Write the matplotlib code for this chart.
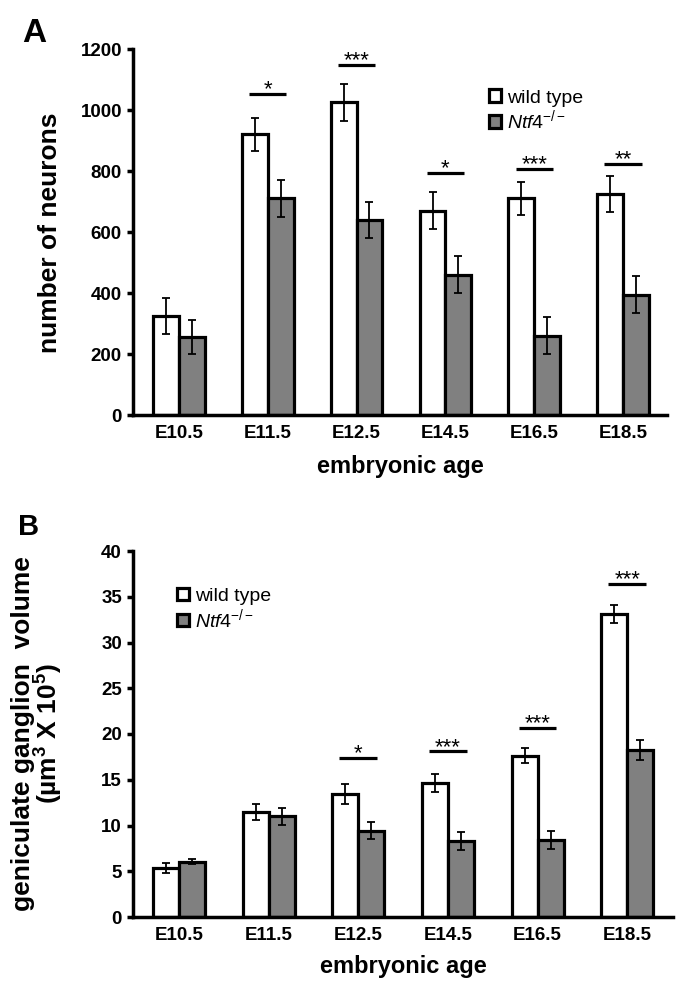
import numpy as np
import matplotlib
matplotlib.use('Agg')
import matplotlib.pyplot as plt
from matplotlib.patches import Patch

plt.rcParams['font.family'] = ['Liberation Sans', 'DejaVu Sans']
plt.rcParams['mathtext.fontset'] = 'custom'
plt.rcParams['mathtext.rm'] = 'Liberation Sans'
plt.rcParams['mathtext.it'] = 'Liberation Sans:italic'
plt.rcParams['mathtext.bf'] = 'Liberation Sans:bold'

# Dados
idades = ['E10.5', 'E11.5', 'E12.5', 'E14.5', 'E16.5', 'E18.5']

neur_wt = [325, 920, 1025, 670, 710, 725]
neur_wt_err = [60, 55, 60, 60, 55, 60]
neur_ko = [255, 710, 640, 460, 260, 395]
neur_ko_err = [55, 60, 60, 60, 60, 60]
neur_sig_idx = [1, 2, 3, 4, 5]
neur_sig_y = [1054, 1147, 793, 807, 824]
neur_sig_txt = ['*', '***', '*', '***', '**']

vol_wt = [5.4, 11.5, 13.45, 14.65, 17.65, 33.1]
vol_wt_err = [0.55, 0.9, 1.05, 0.95, 0.8, 1.0]
vol_ko = [6.05, 11.0, 9.45, 8.3, 8.4, 18.25]
vol_ko_err = [0.3, 0.95, 0.95, 0.95, 0.95, 1.1]
vol_sig_idx = [2, 3, 4, 5]
vol_sig_y = [17.4, 18.1, 20.65, 36.4]
vol_sig_txt = ['*', '***', '***', '***']

ko_label = r'$\mathit{Ntf4}^{\mathit{-/-}}$'
cinza = '#808080'

W, H = 689, 996
fig = plt.figure(figsize=(W / 100, H / 100), dpi=100)


def painel(ax, wt, wt_err, ko, ko_err, sig_idx, sig_y, sig_txt, ymax, passo, xlim):
    x = np.arange(len(idades))
    w = 0.29
    ax.bar(x - w / 2, wt, w, color='white', edgecolor='black', linewidth=2.3, zorder=2)
    ax.bar(x + w / 2, ko, w, color=cinza, edgecolor='black', linewidth=2.3, zorder=2)
    ax.errorbar(x - w / 2, wt, yerr=wt_err, fmt='none', ecolor='black',
                elinewidth=1.3, capsize=3, capthick=1.3, zorder=3)
    ax.errorbar(x + w / 2, ko, yerr=ko_err, fmt='none', ecolor='black',
                elinewidth=1.3, capsize=3, capthick=1.3, zorder=3)
    for i, yy, s in zip(sig_idx, sig_y, sig_txt):
        ax.plot([i - 0.21, i + 0.21], [yy, yy], color='black', lw=2.3, solid_capstyle='butt')
        ax.annotate(s, (i, yy), xytext=(0, -1), textcoords='offset points',
                    ha='center', va='baseline', fontsize=16)
    ax.set_xlim(*xlim)
    ax.set_ylim(0, ymax)
    ax.set_yticks(np.arange(0, ymax + passo / 2, passo))
    ax.set_xticks(x)
    ax.set_xticklabels(idades)
    for s in ['top', 'right']:
        ax.spines[s].set_visible(False)
    ax.spines['left'].set_linewidth(2.5)
    ax.spines['bottom'].set_linewidth(2.5)
    ax.tick_params(axis='x', length=0, pad=7, labelsize=13.5)
    ax.tick_params(axis='y', direction='out', length=4, width=2.5, pad=4, labelsize=13.5)
    for t in ax.get_xticklabels() + ax.get_yticklabels():
        t.set_fontweight('bold')


# Painel A
axA = fig.add_axes([133 / W, 1 - 415 / H, 534 / W, 366 / H])
painel(axA, neur_wt, neur_wt_err, neur_ko, neur_ko_err,
       neur_sig_idx, neur_sig_y, neur_sig_txt, 1200, 200, (-0.518, 5.495))
hs = [Patch(facecolor='white', edgecolor='black', linewidth=2.3),
      Patch(facecolor=cinza, edgecolor='black', linewidth=2.3)]
axA.legend(hs, ['wild type', ko_label], loc='upper left', bbox_to_anchor=(0.66, 0.9),
           frameon=False, fontsize=14, handlelength=0.6, handleheight=0.6,
           handletextpad=0.3, labelspacing=0.1, borderpad=0.2, borderaxespad=0)

# Painel B
axB = fig.add_axes([133 / W, 1 - 917 / H, 540 / W, 366 / H])
painel(axB, vol_wt, vol_wt_err, vol_ko, vol_ko_err,
       vol_sig_idx, vol_sig_y, vol_sig_txt, 40, 5, (-0.513, 5.51))
axB.legend(hs, ['wild type', ko_label], loc='upper left', bbox_to_anchor=(0.075, 0.91),
           frameon=False, fontsize=14, handlelength=0.6, handleheight=0.6,
           handletextpad=0.3, labelspacing=0.1, borderpad=0.2, borderaxespad=0)

# Textos
fig.text(22 / W, 1 - 42 / H, 'A', fontsize=24, fontweight='bold', va='baseline')
fig.text(18 / W, 1 - 535 / H, 'B', fontsize=21, fontweight='bold', va='baseline')
fig.text(50 / W, 1 - 233 / H, 'number of neurons', rotation=90, fontsize=19,
         fontweight='bold', ha='center', va='center')
fig.text(38 / W, 1 - 734 / H,
         'geniculate ganglion  volume\n(µm$^{\\mathbf{3}}$ X 10$^{\\mathbf{5}}$)',
         rotation=90, fontsize=19, fontweight='bold', ha='center', va='center',
         linespacing=0.95, multialignment='center')
fig.text(400 / W, 1 - 473 / H, 'embryonic age', fontsize=17, fontweight='bold',
         ha='center', va='baseline')
fig.text(403 / W, 1 - 973 / H, 'embryonic age', fontsize=17, fontweight='bold',
         ha='center', va='baseline')

fig.savefig('out.png', dpi=100)
